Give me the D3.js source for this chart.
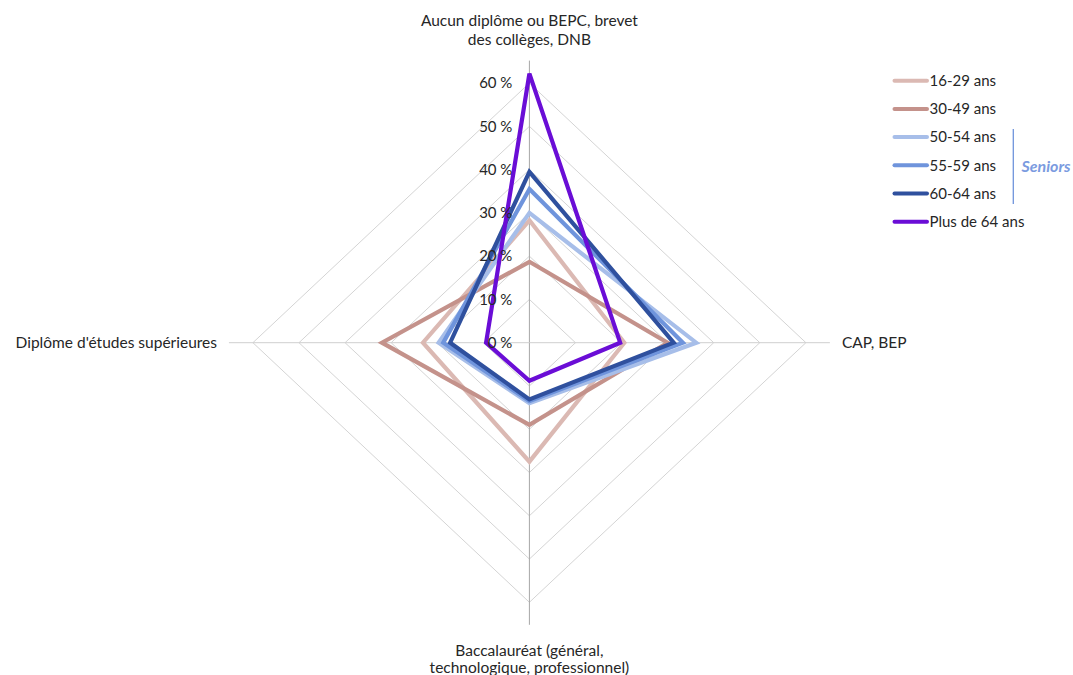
<!DOCTYPE html>
<html><head><meta charset="utf-8">
<script src="https://cdn.jsdelivr.net/npm/d3@7"></script>
<style>body{margin:0;background:#fff}svg{display:block}text{font-family:Lato,"Open Sans",sans-serif;fill:#262626}</style>
</head><body><svg id="c" width="1073" height="675"></svg>
<script>
const categories = ["Aucun diplôme ou BEPC, brevet\ndes collèges, DNB", "CAP, BEP", "Baccalauréat (général,\ntechnologique, professionnel)", "Diplôme d'études supérieures"];
const seriesNames = ["16-29 ans", "30-49 ans", "50-54 ans", "55-59 ans", "60-64 ans", "Plus de 64 ans"];
const s1629 = [28.3, 20.6, 27.5, 23.1];
const s3049 = [18.7, 30.0, 19.0, 32.0];
const s5054 = [30.0, 36.2, 14.0, 19.7];
const s5559 = [35.5, 33.3, 13.5, 18.7];
const s6064 = [39.5, 31.3, 13.1, 17.2];
const s64p  = [62.2, 19.7, 8.8, 9.4];
const tickValues = [0, 10, 20, 30, 40, 50, 60];
const tickLabels = ["0 %", "10 %", "20 %", "30 %", "40 %", "50 %", "60 %"];
const colors = ["#dbb9b3", "#c4928b", "#a7bee9", "#6f94dc", "#2f509e", "#6a0dd6"];
const seriesValues = [s1629, s3049, s5054, s5559, s6064, s64p];

const svg = d3.select("#c");
const cx = 529.4, cy = 342.7;
const rx = d3.scaleLinear().domain([0, 60]).range([0, 276.5]);
const ry = d3.scaleLinear().domain([0, 60]).range([0, 259.6]);
const angle = d3.scalePoint().domain(d3.range(categories.length)).range([0, 2*Math.PI*(categories.length-1)/categories.length]);
const px = (i, v) => cx + rx(v) * Math.sin(angle(i));
const py = (i, v) => cy - ry(v) * Math.cos(angle(i));
const idx = d3.range(categories.length);

// grid rings
const g = svg.append("g");
g.selectAll("path.ring").data(tickValues.filter(t => t > 0)).join("path")
  .attr("d", t => d3.line()(idx.map(i => [px(i, t), py(i, t)])) + "Z")
  .attr("fill", "none").attr("stroke", "#d4d4d4").attr("stroke-width", 1);
// spokes
g.selectAll("line.spoke").data(idx).join("line")
  .attr("x1", cx).attr("y1", cy)
  .attr("x2", i => px(i, 65.2)).attr("y2", i => py(i, 65.2))
  .attr("stroke", i => (i % 2 === 0) ? "#a6a6a6" : "#cfcfcf").attr("stroke-width", 1);

// series
const line = d3.line().x(d => d[0]).y(d => d[1]);
svg.append("g").selectAll("path").data(seriesValues).join("path")
  .attr("d", vals => line(vals.map((v, i) => [px(i, v), py(i, v)])) + "Z")
  .attr("fill", "none").attr("stroke", (d, k) => colors[k])
  .attr("stroke-width", 4.2).attr("stroke-linejoin", "miter");

// tick labels
svg.append("g").selectAll("text").data(tickValues).join("text")
  .attr("x", cx - 17).attr("y", t => py(0, t)).attr("dy", "0.35em")
  .attr("text-anchor", "end").style("font-size", "15px").text((t, k) => tickLabels[k]);

// category labels
const labelPos = [
  {x: cx, y: 20.5, anchor: "middle", lh: 19.5},
  {x: 842, y: cy, anchor: "start", lh: 0},
  {x: cx, y: 651, anchor: "middle", lh: 16.8},
  {x: 217, y: cy, anchor: "end", lh: 0}
];
idx.forEach(i => {
  const lines = categories[i].split("\n");
  const t = svg.append("text").attr("text-anchor", labelPos[i].anchor).style("font-size", "15.5px");
  lines.forEach((l, j) => {
    t.append("tspan").attr("x", labelPos[i].x).attr("y", labelPos[i].y + j * labelPos[i].lh).attr("dy", "0.35em").text(l);
  });
});

// legend
const leg = svg.append("g");
seriesNames.forEach((n, k) => {
  const y = 80.7 + k * 28.2;
  leg.append("line").attr("x1", 894.5).attr("x2", 927).attr("y1", y).attr("y2", y)
    .attr("stroke", colors[k]).attr("stroke-width", 4).attr("stroke-linecap", "round");
  leg.append("text").attr("x", 929.5).attr("y", y).attr("dy", "0.35em").style("font-size", "15px").text(n);
});
leg.append("line").attr("x1", 1013.3).attr("x2", 1013.3).attr("y1", 129).attr("y2", 204)
  .attr("stroke", "#6f94dc").attr("stroke-width", 1.3);
leg.append("text").attr("x", 1021.5).attr("y", 166).attr("dy", "0.35em")
  .style("font-size", "16px").style("font-style", "italic").style("font-weight", "bold")
  .style("fill", "#7b9be0").text("Seniors");
</script></body></html>
